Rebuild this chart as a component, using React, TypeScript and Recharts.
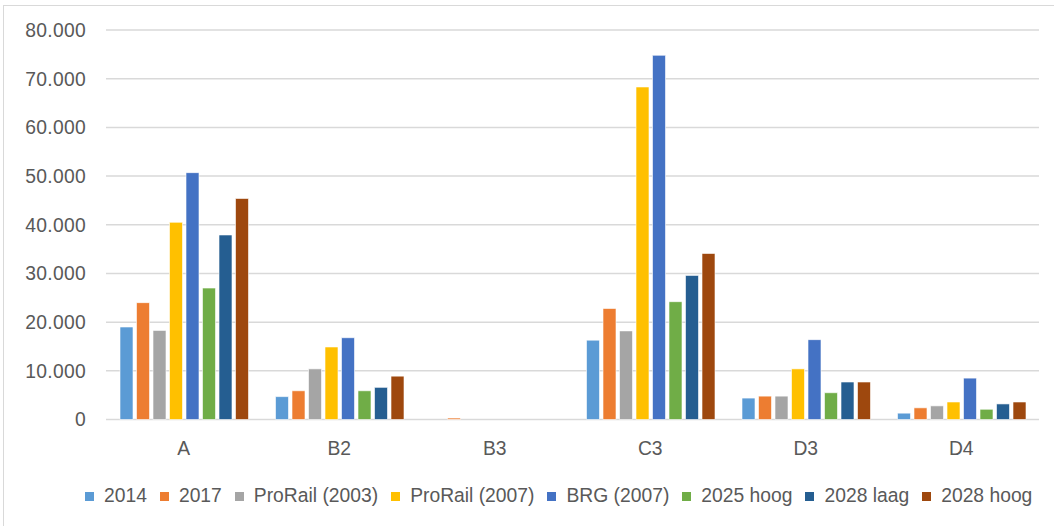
import React from 'react';
import { BarChart, Bar, XAxis, YAxis, CartesianGrid } from 'recharts';

const categories = ['A', 'B2', 'B3', 'C3', 'D3', 'D4'];
const s2014 = [19000, 4700, 0, 16300, 4400, 1300];
const s2017 = [24000, 5900, 300, 22800, 4800, 2400];
const proRail2003 = [18300, 10400, 0, 18200, 4800, 2800];
const proRail2007 = [40500, 14900, 0, 68300, 10400, 3600];
const brg2007 = [50700, 16800, 0, 74800, 16400, 8500];
const hoog2025 = [27000, 5900, 0, 24200, 5500, 2100];
const laag2028 = [37900, 6600, 0, 29600, 7700, 3200];
const hoog2028 = [45400, 8900, 0, 34100, 7700, 3600];
const yTicks = [0, 10000, 20000, 30000, 40000, 50000, 60000, 70000, 80000];

const series = [
  { key: 's2014', name: '2014', values: s2014, color: '#5B9BD5' },
  { key: 's2017', name: '2017', values: s2017, color: '#ED7D31' },
  { key: 'pr2003', name: 'ProRail (2003)', values: proRail2003, color: '#A5A5A5' },
  { key: 'pr2007', name: 'ProRail (2007)', values: proRail2007, color: '#FFC000' },
  { key: 'brg2007', name: 'BRG (2007)', values: brg2007, color: '#4472C4' },
  { key: 'h2025', name: '2025 hoog', values: hoog2025, color: '#70AD47' },
  { key: 'l2028', name: '2028 laag', values: laag2028, color: '#255E91' },
  { key: 'h2028', name: '2028 hoog', values: hoog2028, color: '#9E480E' },
];

const data = categories.map((c, i) => {
  const row: Record<string, string | number> = { cat: c };
  series.forEach((s) => {
    row[s.key] = s.values[i];
  });
  return row;
});

const fmt = (v: number) => (v === 0 ? '0' : String(v).replace(/\B(?=(\d{3})+(?!\d))/g, '.'));

const FONT = '"Liberation Sans", Arial, sans-serif';
const TEXT = '#595959';
const FS = 19.3;

export default function App() {
  return (
    <div
      style={{
        position: 'absolute',
        left: 0,
        top: 0,
        width: 1054,
        height: 526,
        overflow: 'hidden',
        background: '#fff',
        fontFamily: FONT,
      }}
    >
      <div
        style={{
          position: 'absolute',
          left: 3,
          top: 5,
          width: 1200,
          height: 700,
          border: '1px solid #D9D9D9',
          boxSizing: 'border-box',
        }}
      />
      <div style={{ position: 'absolute', left: 0, top: 0 }}>
        <BarChart
          width={1054}
          height={526}
          data={data}
          margin={{ top: 30, right: 15, left: 0, bottom: 76.5 }}
          barSize={13}
          barGap={3.5}
        >
          <CartesianGrid vertical={false} stroke="#D9D9D9" strokeWidth={1.5} />
          <XAxis
            dataKey="cat"
            axisLine={false}
            tickLine={false}
            height={30}
            tickMargin={16}
            tick={{ fill: TEXT, fontSize: FS, fontFamily: FONT }}
          />
          <YAxis
            width={106}
            domain={[0, 80000]}
            ticks={yTicks}
            interval={0}
            axisLine={false}
            tickLine={false}
            tickMargin={14}
            tickFormatter={fmt}
            tick={{ fill: TEXT, fontSize: FS, fontFamily: FONT, letterSpacing: 0.3 }}
          />
          {series.map((s) => (
            <Bar
              key={s.key}
              dataKey={s.key}
              name={s.name}
              fill={s.color}
              stroke="#ffffff"
              strokeWidth={0.6}
              isAnimationActive={false}
            />
          ))}
        </BarChart>
      </div>
      <div
        style={{
          position: 'absolute',
          left: 85,
          top: 484,
          display: 'flex',
          alignItems: 'center',
          height: 24,
          fontSize: FS,
          color: TEXT,
          whiteSpace: 'nowrap',
        }}
      >
        {series.map((s) => (
          <div key={s.key} style={{ display: 'flex', alignItems: 'center', marginRight: 13 }}>
            <span style={{ width: 9, height: 9, background: s.color, marginRight: 10, display: 'inline-block' }} />
            <span>{s.name}</span>
          </div>
        ))}
      </div>
    </div>
  );
}
